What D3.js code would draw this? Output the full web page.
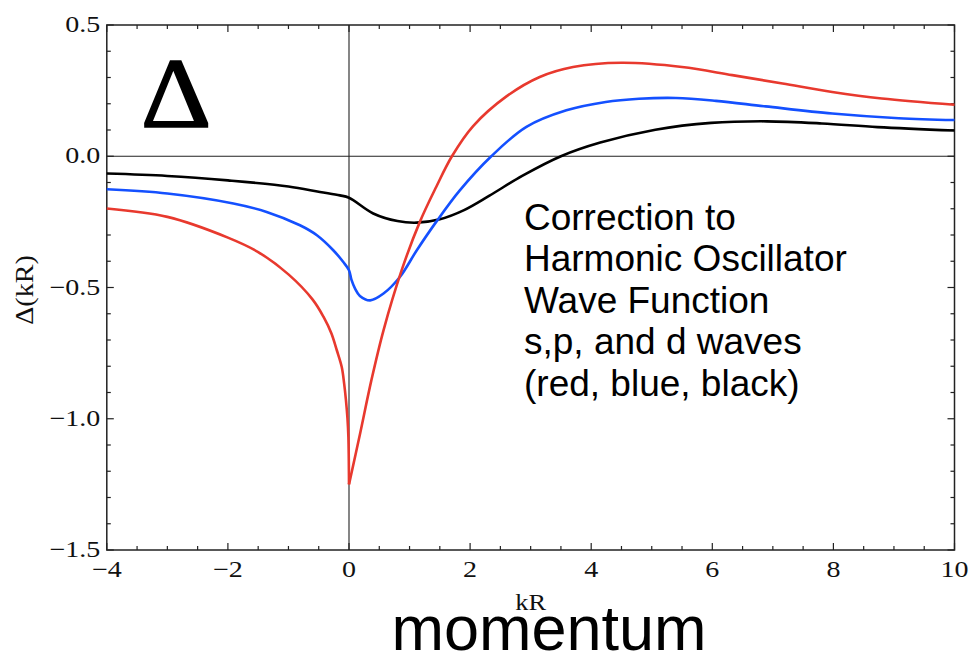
<!DOCTYPE html>
<html>
<head>
<meta charset="utf-8">
<script src="https://cdn.jsdelivr.net/npm/d3@7"></script>
<style>
  body { margin: 0; background: #fff; }
  svg { display: block; }
  .tick-label { font-family: "Liberation Serif", "Times New Roman", serif; font-size: 23px; fill: #111; }
  .axis-label { font-family: "Liberation Serif", "Times New Roman", serif; fill: #111; }
  .note { font-family: "Liberation Sans", Arial, sans-serif; font-size: 37px; fill: #000; }
</style>
</head>
<body>
<script>
'use strict'

// s wave (red)
const redK = [-4, -3, -2, -1.5, -1, -0.6, -0.42, -0.29, -0.2, -0.12, -0.08, -0.05, -0.025, -0.01, 0,
  0.18, 0.37, 0.57, 0.87, 1.17, 1.44, 1.7, 2.05, 2.6, 3.15, 3.7, 4.5, 5.5, 6.33, 7.16, 7.98, 8.8, 10]
const redD = [-0.199, -0.231, -0.31, -0.365, -0.45, -0.546, -0.612, -0.675, -0.74, -0.803, -0.866, -0.93, -1.0, -1.07, -1.25,
  -1.06, -0.853, -0.663, -0.434, -0.25, -0.117, 0, 0.115, 0.228, 0.302, 0.34, 0.356, 0.34, 0.309, 0.277, 0.245, 0.22, 0.196]

// p wave (blue)
const blueK = [-4, -3, -1.91, -1.36, -0.81, -0.53, -0.26, -0.094, 0, 0.04, 0.1, 0.18, 0.35, 0.57, 0.84,
  1.12, 1.44, 1.83, 2.35, 2.93, 3.59, 4.24, 4.79, 5.4, 6.06, 6.88, 7.98, 9.08, 10]
const blueD = [-0.126, -0.142, -0.18, -0.212, -0.263, -0.301, -0.358, -0.403, -0.434, -0.47, -0.504, -0.532, -0.549, -0.523, -0.46,
  -0.358, -0.25, -0.13, 0, 0.112, 0.175, 0.207, 0.219, 0.222, 0.211, 0.19, 0.163, 0.145, 0.138]

// d wave (black)
const blackK = [-4, -3, -2, -1, -0.48, -0.15, 0, 0.4, 0.8, 1.12, 1.5, 1.9, 2.32, 2.86, 3.5, 4.15, 5.06, 5.98, 6.9, 7.81, 8.73, 10]
const blackD = [-0.066, -0.075, -0.092, -0.115, -0.136, -0.149, -0.158, -0.218, -0.247, -0.253, -0.24, -0.205, -0.15, -0.075, 0, 0.052, 0.101, 0.127, 0.133, 0.125, 0.111, 0.098]

const xTicks = [-4, -2, 0, 2, 4, 6, 8, 10]
const yTicks = [-1.5, -1.0, -0.5, 0.0, 0.5]
const noteLines = ['Correction to', 'Harmonic Oscillator', 'Wave Function', 's,p, and d waves', '(red, blue, black)']

const W = 971
const H = 659
const margin = {top: 25, right: 16.5, bottom: 109, left: 106.8}
const width = W - margin.left - margin.right
const height = H - margin.top - margin.bottom
const stretch = 1.22

const x = d3.scaleLinear().domain([-4, 10]).range([0, width])
const y = d3.scaleLinear().domain([-1.5, 0.5]).range([height, 0])

const svg = d3.select('body').append('svg')
    .attr('width', W)
    .attr('height', H)
const g = svg.append('g')
    .attr('transform', `translate(${margin.left},${margin.top})`)

// zero lines
g.append('line')
    .attr('x1', x(0)).attr('x2', x(0))
    .attr('y1', 0).attr('y2', height)
    .attr('stroke', '#222').attr('stroke-width', 1.1)
g.append('line')
    .attr('x1', 0).attr('x2', width)
    .attr('y1', y(0)).attr('y2', y(0))
    .attr('stroke', '#222').attr('stroke-width', 1.1)

// frame ticks on all four sides, pointing in
const fmt = v => (v < 0 ? '\u2212' : '') + Math.abs(v)
const fmtY = v => (v < 0 ? '\u2212' : '') + Math.abs(v).toFixed(1)
const minorX = d3.range(-4, 10.01, 0.5)
const minorY = d3.range(-1.5, 0.501, 0.1)

const ticks = g.append('g').attr('stroke', '#222').attr('stroke-width', 1.2)
minorX.forEach(v => {
  const len = xTicks.some(t => Math.abs(t - v) < 1e-6) ? 7 : 4
  ticks.append('line').attr('x1', x(v)).attr('x2', x(v)).attr('y1', height).attr('y2', height - len)
  ticks.append('line').attr('x1', x(v)).attr('x2', x(v)).attr('y1', 0).attr('y2', len)
})
minorY.forEach(v => {
  const len = yTicks.some(t => Math.abs(t - v) < 1e-6) ? 7 : 4
  ticks.append('line').attr('x1', 0).attr('x2', len).attr('y1', y(v)).attr('y2', y(v))
  ticks.append('line').attr('x1', width).attr('x2', width - len).attr('y1', y(v)).attr('y2', y(v))
})

g.append('rect')
    .attr('width', width)
    .attr('height', height)
    .attr('fill', 'none')
    .attr('stroke', '#222')
    .attr('stroke-width', 1.5)

g.selectAll('.xlab')
    .data(xTicks)
  .enter().append('text')
    .attr('class', 'tick-label')
    .attr('transform', d => `translate(${x(d)},${height + 27}) scale(${stretch},1)`)
    .attr('text-anchor', 'middle')
    .text(fmt)

g.selectAll('.ylab')
    .data(yTicks)
  .enter().append('text')
    .attr('class', 'tick-label')
    .attr('transform', d => `translate(-6.5,${y(d) + 7}) scale(${stretch},1)`)
    .attr('text-anchor', 'end')
    .text(fmtY)

// curves
const line = d3.line()
  .x(d => x(d[0]))
  .y(d => y(d[1]))
  .curve(d3.curveCatmullRom.alpha(0.5))

const zip = (ks, ds) => ks.map((k, i) => [k, ds[i]])
const red = zip(redK, redD)
const series = [
  {pts: zip(blackK, blackD), color: '#000000'},
  {pts: zip(blueK, blueD), color: '#1450ff'},
  {pts: red.filter(d => d[0] <= 0), color: '#e8392e'},
  {pts: red.filter(d => d[0] >= 0), color: '#e8392e'}
]

g.selectAll('.curve')
    .data(series)
  .enter().append('path')
    .attr('class', 'curve')
    .attr('fill', 'none')
    .attr('stroke', d => d.color)
    .attr('stroke-width', 2.6)
    .attr('stroke-linejoin', 'round')
    .attr('d', d => line(d.pts))

// labels
svg.append('text')
    .attr('class', 'axis-label')
    .attr('transform', `translate(${margin.left + width / 2},610) scale(1.1,1)`)
    .attr('text-anchor', 'middle')
    .style('font-size', '24px')
    .text('kR')

svg.append('text')
    .attr('class', 'axis-label')
    .attr('transform', 'translate(33,290) rotate(-90) scale(1.08,1)')
    .attr('text-anchor', 'middle')
    .style('font-size', '26px')
    .text('\u0394(kR)')

svg.append('text')
    .attr('transform', 'translate(176,127) scale(1.1,1)')
    .attr('text-anchor', 'middle')
    .attr('stroke', '#000')
    .attr('stroke-width', 1.5)
    .style('font-family', '"Liberation Serif", "Times New Roman", serif')
    .style('font-size', '100px')
    .text('\u0394')

svg.append('text')
    .attr('x', 549)
    .attr('y', 650)
    .attr('text-anchor', 'middle')
    .style('font-family', '"Liberation Sans", Arial, sans-serif')
    .style('font-size', '63px')
    .text('momentum')

svg.selectAll('.note')
    .data(noteLines)
  .enter().append('text')
    .attr('class', 'note')
    .attr('x', 524)
    .attr('y', (d, i) => 230 + i * 41.4)
    .text(d => d)
</script>
</body>
</html>
